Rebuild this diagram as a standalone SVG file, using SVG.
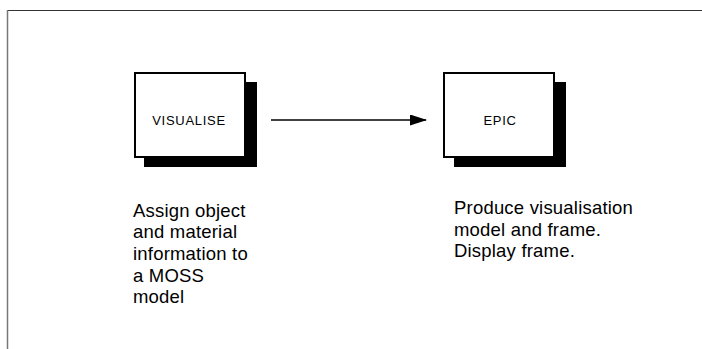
<svg xmlns="http://www.w3.org/2000/svg" width="702" height="349" viewBox="0 0 702 349">
<style>
.box{fill:#fff;stroke:#000;stroke-width:2}
.shadow{fill:#000}
.lbl{font-family:"Liberation Sans",Arial,sans-serif;font-size:13px;letter-spacing:0.7px;fill:#000;text-anchor:middle}
.desc{font-family:"Liberation Sans",Arial,sans-serif;font-size:18.5px;letter-spacing:0.2px;fill:#000}
</style>
<defs>
<marker id="arr" markerWidth="17" markerHeight="12" refX="16" refY="5.5" orient="auto" markerUnits="userSpaceOnUse">
<polygon points="0,0 17,5.5 0,11" fill="#000"/>
</marker>
</defs>
<rect width="702" height="349" fill="#fff"/>
<line x1="7" y1="10.5" x2="702" y2="10.5" stroke="#333" stroke-width="1"/>
<line x1="7.5" y1="10" x2="7.5" y2="349" stroke="#777" stroke-width="1.5"/>
<g id="connectors">
<line x1="271" y1="120" x2="426" y2="120" stroke="#000" stroke-width="1.5" marker-end="url(#arr)"/>
</g>
<g id="visualise">
<rect class="shadow" x="144" y="82" width="113" height="85"/>
<rect class="box" x="135" y="73" width="110" height="84"/>
<text class="lbl" x="189" y="124.5">VISUALISE</text>
</g>
<g id="epic">
<rect class="shadow" x="454" y="82" width="112" height="85"/>
<rect class="box" x="444" y="73" width="110" height="84"/>
<text class="lbl" x="500" y="124.5">EPIC</text>
</g>
<g id="desc-visualise">
<text class="desc" x="133" y="216.5">Assign object</text>
<text class="desc" x="133" y="238.2">and material</text>
<text class="desc" x="133" y="259.9">information to</text>
<text class="desc" x="133" y="281.6">a MOSS</text>
<text class="desc" x="133" y="303.3">model</text>
</g>
<g id="desc-epic">
<text class="desc" x="454" y="214">Produce visualisation</text>
<text class="desc" x="454" y="235.7">model and frame.</text>
<text class="desc" x="454" y="257.4">Display frame.</text>
</g>
</svg>
